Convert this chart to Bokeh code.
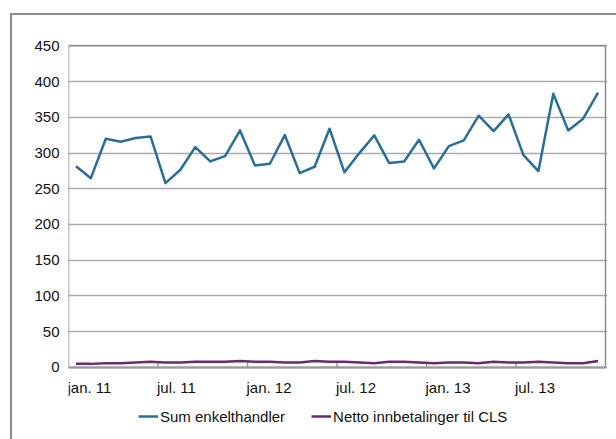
from bokeh.plotting import figure
from bokeh.models import FixedTicker, Legend, LegendItem, Range1d
from bokeh.core.properties import value
from bokeh.embed import file_html
from bokeh.resources import INLINE

# Monthly data, jan. 2011 - des. 2013
sum_enkelthandler = [281.6, 264.8, 320.0, 315.8, 320.9, 323.2, 257.8, 276.6, 308.3, 288.2,
                     295.7, 331.6, 282.6, 285.0, 325.1, 271.8, 280.8, 334.0, 273.0, 299.9,
                     324.6, 285.9, 288.2, 318.6, 278.4, 309.7, 317.6, 352.2, 330.7, 354.0,
                     297.1, 274.6, 383.0, 331.6, 348.0, 384.4]
netto_cls = [5, 5, 6, 6, 7, 8, 7, 7, 8, 8, 8, 9, 8, 8, 7, 7, 9, 8,
             8, 7, 6, 8, 8, 7, 6, 7, 7, 6, 8, 7, 7, 8, 7, 6, 6, 9]
tick_months = [0, 6, 12, 18, 24, 30]
tick_labels = ["jan. 11", "jul. 11", "jan. 12", "jul. 12", "jan. 13", "jul. 13"]
y_ticks = [0, 50, 100, 150, 200, 250, 300, 350, 400, 450]
series_names = ["Sum enkelthandler", "Netto innbetalinger til CLS"]

n = len(sum_enkelthandler)
x = [i + 0.5 for i in range(n)]
FONT = "Liberation Sans"
GRAY = "#8c8c8c"
PX_PER_UNIT_Y = 0.7144          # pixels per data unit on the y axis
label_y = -19.7 / PX_PER_UNIT_Y  # x labels sit ~20px below the zero line
tick_len = 5 / PX_PER_UNIT_Y

p = figure(width=616, height=439, output_backend="svg", toolbar_location=None,
           x_axis_location=None,
           x_range=Range1d(0, 36.134), y_range=Range1d(-100.8, 453.2),
           min_border_left=68, min_border_right=9, min_border_top=43, min_border_bottom=0)
p.border_fill_color = None
p.background_fill_color = "white"
p.outline_line_color = None
p.styles = {"background": ("linear-gradient(#8c8c8c, #8c8c8c) 10px 13px / 2px 1000px no-repeat, "
                           "linear-gradient(#8c8c8c, #8c8c8c) 10px 13px / 1000px 2px no-repeat, white")}

# y axis
ya = p.yaxis[0]
ya.ticker = FixedTicker(ticks=y_ticks)
ya.axis_line_color = None
ya.major_tick_line_color = None
ya.major_tick_in = 0
ya.major_tick_out = 0
ya.minor_tick_line_color = None
ya.major_label_standoff = 9
ya.major_label_text_font = FONT
ya.major_label_text_font_size = "15px"
ya.major_label_text_color = "#111111"

p.xgrid.grid_line_color = None
p.ygrid.grid_line_color = "#aaaaaa"
p.ygrid.grid_line_width = 1.5

# plot-area box and category axis
p.quad(left=[0], right=[n], bottom=[y_ticks[0]], top=[y_ticks[-1]],
       fill_color=None, line_color=GRAY, line_width=1.5)
p.segment(x0=[0], y0=[0], x1=[n], y1=[0], line_color="#9a9a9a", line_width=2)
p.segment(x0=tick_months[1:], y0=[0] * 5, x1=tick_months[1:], y1=[tick_len] * 5,
          line_color="#9a9a9a", line_width=1.5)
p.text(x=tick_months, y=[label_y] * len(tick_months), text=tick_labels,
       text_align="left", text_baseline="middle", x_offset=-1,
       text_font=value(FONT), text_font_size=value("15px"), text_color="#111111")

r1 = p.line(x, sum_enkelthandler, line_color="#276f98", line_width=2.5, line_join="round")
r2 = p.line(x, netto_cls, line_color="#6a2a6c", line_width=2.5, line_join="round")

legend = Legend(items=[LegendItem(label=series_names[0], renderers=[r1]),
                       LegendItem(label=series_names[1], renderers=[r2])],
                orientation="horizontal", location=(70, 13),
                glyph_width=20, glyph_height=20, label_standoff=2, spacing=26,
                padding=0, margin=0, border_line_color=None, background_fill_alpha=0,
                label_text_font=FONT, label_text_font_size="15px", label_text_color="#111111")
p.add_layout(legend)

open("out.html", "w").write(file_html(p, INLINE))
